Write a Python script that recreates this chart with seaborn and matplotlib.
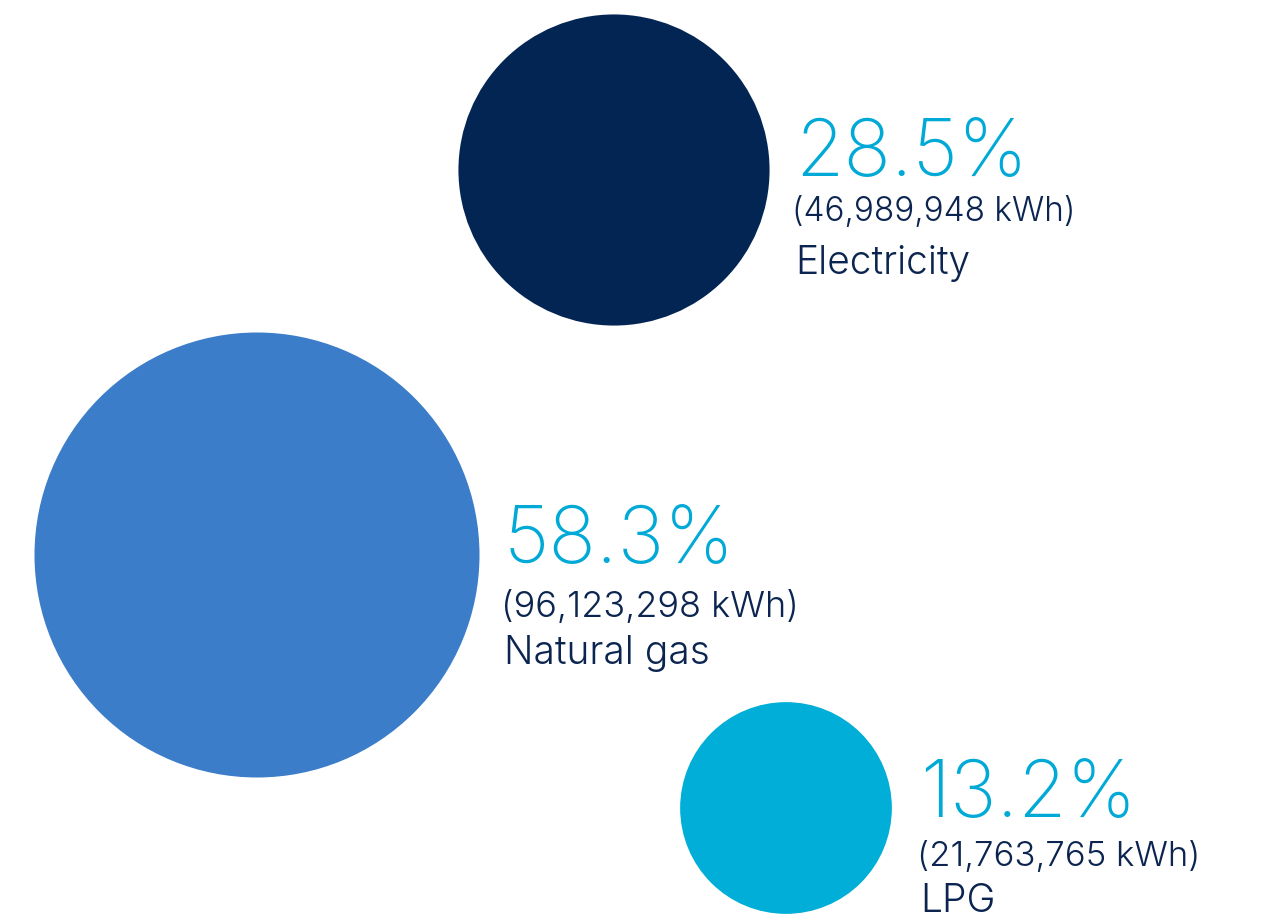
import matplotlib
matplotlib.use("Agg")
import matplotlib.pyplot as plt
import seaborn as sns
import pandas as pd
import numpy as np

# ---- data ----
categories = ["Electricity", "Natural gas", "LPG"]
kwh = [46989948, 96123298, 21763765]
shares = [28.5, 58.3, 13.2]
colors = ["#032553", "#3B7DC9", "#00AED8"]

# ---- layout (pixels in a 1271x921 canvas) ----
W, H = 1271, 921
centers_x = [614, 257, 786]
centers_y = [170, 555, 808]
max_radius_px = 222.5            # radius of the largest bubble
text_x = [797, 506, 922]         # left edge of the label block
pct_base = [176, 563, 817]       # baselines of the three text lines
kwh_base = [221, 617, 866]
lab_base = [274, 664, 912]
kwh_size = [24, 26, 25]

sns.set_theme(style="white")
plt.rcParams["font.family"] = ["Inter", "DejaVu Sans"]

fig = plt.figure(figsize=(W / 100, H / 100), dpi=100)
ax = fig.add_axes([0, 0, 1, 1])
ax.set_xlim(0, W)
ax.set_ylim(H, 0)
ax.set_axis_off()

df = pd.DataFrame({"cat": categories, "kwh": kwh, "x": centers_x, "y": centers_y})
vmax = max(kwh)
smax = (2 * max_radius_px * 72 / 100) ** 2  # marker area (pt^2) for the largest bubble
sns.scatterplot(data=df, x="x", y="y", size="kwh", sizes=(0, smax), size_norm=(0, vmax),
                hue="cat", palette=dict(zip(categories, colors)), legend=False,
                linewidth=0, ax=ax)

pct_color = "#00A9D6"
txt_color = "#0B2550"
for i, (c, v, p) in enumerate(zip(categories, kwh, shares)):
    tx = text_x[i]
    ax.text(tx - 2, pct_base[i], f"{p:.1f}%", fontsize=56.5, color=pct_color, fontweight=250,
            ha="left", va="baseline")
    ax.text(tx - 5, kwh_base[i], f"({v:,} kWh)", fontsize=kwh_size[i], color=txt_color,
            fontweight=300, ha="left", va="baseline")
    ax.text(tx - 2, lab_base[i], c, fontsize=28, color=txt_color, fontweight=300,
            ha="left", va="baseline")

fig.savefig("out.png", dpi=100, facecolor="white")
